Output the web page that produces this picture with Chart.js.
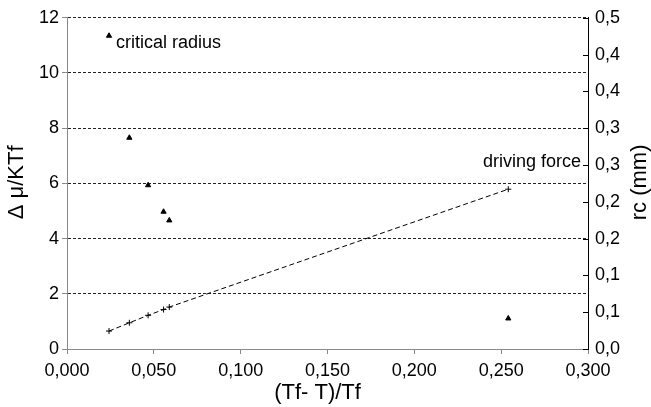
<!DOCTYPE html>
<html>
<head>
<meta charset="utf-8">
<script src="https://cdn.jsdelivr.net/npm/chart.js@4"></script>
<style>
  html, body { margin: 0; padding: 0; background: #fff; }
  canvas { display: block; }
</style>
</head>
<body>
<canvas id="chart" width="651" height="407"></canvas>
<script>
// ====== data ======
const undercooling = [0.0242, 0.0359, 0.0467, 0.0556, 0.0589, 0.2541];   // (Tf-T)/Tf
const drivingForce = [0.65, 0.95, 1.22, 1.43, 1.52, 5.79];                // Δμ/KTf (left)
const criticalRadius = [0.4256, 0.287, 0.2225, 0.1865, 0.1747, 0.0415];   // rc mm (right)

const xTickLabels = ['0,000', '0,050', '0,100', '0,150', '0,200', '0,250', '0,300'];
const leftTickLabels = ['0', '2', '4', '6', '8', '10', '12'];
const rightTickLabels = ['0,0', '0,1', '0,1', '0,2', '0,2', '0,3', '0,3', '0,4', '0,4', '0,5'];

const FONT = "'Liberation Sans', Arial, sans-serif";
const GREY = '#8a8a8a';

const toPoints = (ys) => undercooling.map((x, i) => ({ x, y: ys[i] }));

// inward ticks on the right axis, axis titles and the two series captions
const extras = {
    id: 'extras',
    afterDraw(chart) {
        const { ctx, chartArea, scales } = chart;
        const r = scales.y1;
        ctx.save();
        ctx.strokeStyle = '#000';
        ctx.lineWidth = 1;
        r.ticks.forEach((t) => {
            const y = Math.round(r.getPixelForValue(t.value)) + 0.5;
            ctx.beginPath();
            ctx.moveTo(chartArea.right - 5, y);
            ctx.lineTo(chartArea.right, y);
            ctx.stroke();
        });

        ctx.fillStyle = '#000';
        const midY = (chartArea.top + chartArea.bottom) / 2 - 1;

        // axis titles (both vertical ones read bottom to top)
        ctx.font = `22px ${FONT}`;
        ctx.textAlign = 'center';
        ctx.textBaseline = 'middle';
        ctx.fillText('(Tf- T)/Tf', (chartArea.left + chartArea.right) / 2 - 10, chart.height - 14);
        [['Δ μ/KTf', 17], ['rc (mm)', chart.width - 11]].forEach(([txt, x]) => {
            ctx.save();
            ctx.translate(x, midY);
            ctx.rotate(-Math.PI / 2);
            ctx.fillText(txt, 0, 0);
            ctx.restore();
        });

        ctx.font = `18px ${FONT}`;
        ctx.textBaseline = 'alphabetic';
        const cr = chart.getDatasetMeta(1).data[0];
        ctx.textAlign = 'left';
        ctx.fillText('critical radius', cr.x + 7, cr.y + 12);
        const pts = chart.getDatasetMeta(0).data;
        const df = pts[pts.length - 1];
        ctx.textAlign = 'right';
        ctx.fillText('driving force', chartArea.right - 7, df.y - 22);
        ctx.restore();
    },
};

new Chart(document.getElementById('chart').getContext('2d'), {
    type: 'scatter',
    data: {
        datasets: [
            {
                label: 'driving force',
                data: toPoints(drivingForce),
                yAxisID: 'y',
                showLine: true,
                borderColor: '#000',
                borderWidth: 1,
                borderDash: [5, 3],
                pointStyle: 'cross',
                pointRadius: 3,
                pointBorderWidth: 1,
                pointBorderColor: '#000',
            },
            {
                label: 'critical radius',
                data: toPoints(criticalRadius),
                yAxisID: 'y1',
                pointStyle: 'triangle',
                pointRadius: 3,
                pointBackgroundColor: '#000',
                pointBorderColor: '#000',
                pointBorderWidth: 1,
            },
        ],
    },
    options: {
        responsive: false,
        animation: false,
        devicePixelRatio: 1,
        layout: { padding: { top: 16, left: 0, right: 0, bottom: 0 } },
        plugins: { legend: { display: false }, tooltip: { enabled: false } },
        scales: {
            x: {
                type: 'linear',
                min: 0, max: 0.3,
                afterFit: (s) => { s.height = 58; },
                ticks: {
                    stepSize: 0.05,
                    color: '#000',
                    padding: 6,
                    font: { family: FONT, size: 18 },
                    maxRotation: 0,
                    callback: (v, i) => xTickLabels[i],
                },
                grid: { drawOnChartArea: false, tickLength: 5, tickColor: GREY },
                border: { color: GREY, width: 1 },
            },
            y: {
                position: 'left',
                min: 0, max: 12,
                afterFit: (s) => { s.width = 67; },
                ticks: {
                    stepSize: 2,
                    color: '#000',
                    padding: 3,
                    font: { family: FONT, size: 18 },
                    callback: (v, i) => leftTickLabels[i],
                },
                grid: {
                    color: (c) => (c.tick && c.tick.value === 0 ? 'rgba(0,0,0,0)' : '#222'),
                    tickColor: GREY,
                    tickLength: 5,
                    tickBorderDash: [],
                },
                border: { color: GREY, width: 1, dash: [3, 2] },
            },
            y1: {
                position: 'right',
                min: 0, max: 0.45,
                afterFit: (s) => { s.width = 63; },
                ticks: {
                    stepSize: 0.05,
                    color: '#000',
                    padding: 7,
                    font: { family: FONT, size: 18 },
                    callback: (v, i) => rightTickLabels[i],
                },
                grid: { drawOnChartArea: false, tickLength: 0 },
                border: { color: '#000', width: 1 },
            },
        },
    },
    plugins: [extras],
});
</script>
</body>
</html>
